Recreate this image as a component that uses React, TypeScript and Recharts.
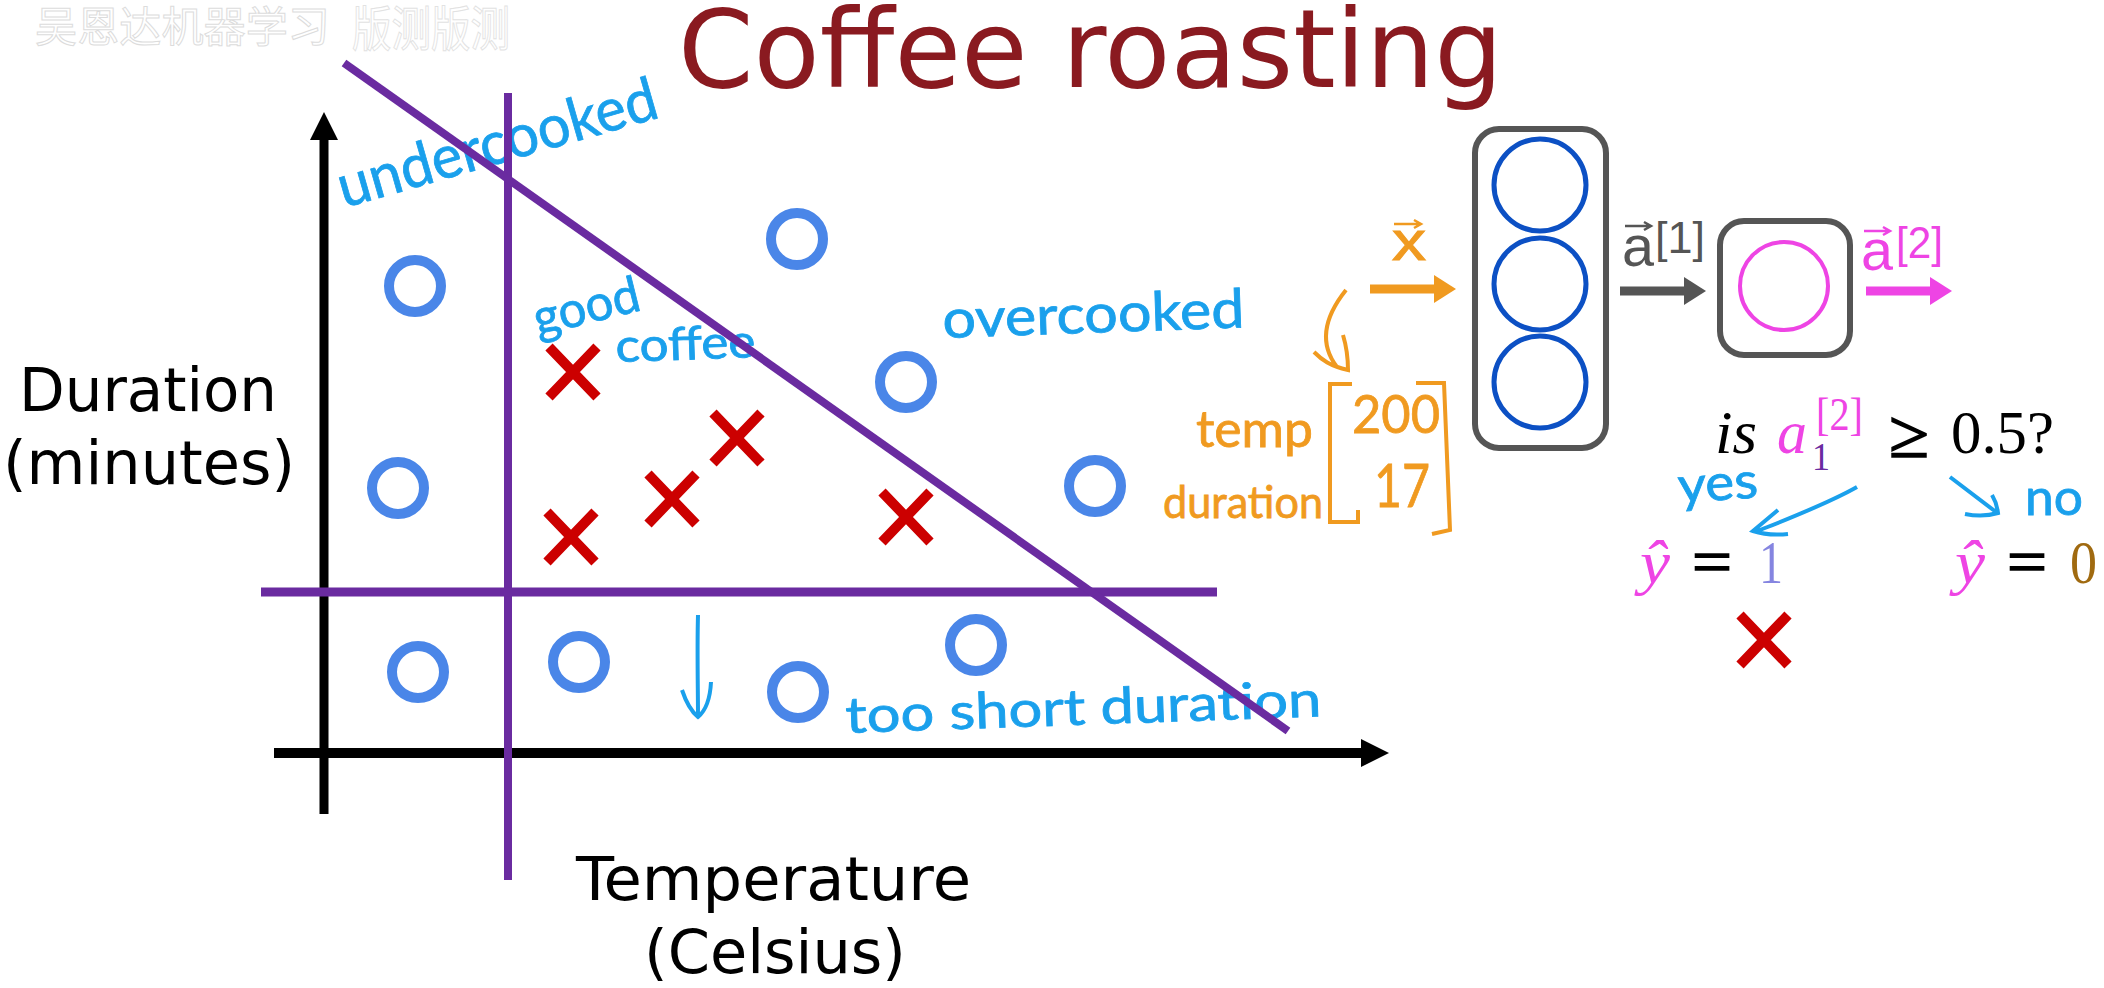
import React from "react";
import { ComposedChart, Scatter, XAxis, YAxis } from "recharts";

// Data units: temperature / duration readings relative to the axis origin
const notGoodTemperature = [9.1, 47.3, 58.2, 7.4, 77.1, 9.4, 25.5, 47.4, 65.2];
const notGoodDuration = [46.7, 51.4, 37.1, 26.5, 26.7, 8.1, 9.1, 6.1, 10.8];
const goodTemperature = [24.9, 41.3, 34.8, 24.7, 58.2];
const goodDuration = [38.1, 31.5, 25.4, 21.6, 23.6];

const yAxisLineT = [0, 0];
const yAxisLineD = [61.5, -6.1];
const yAxisTipD = [64.1];
const xAxisLineT = [-5, 104];
const xAxisLineD = [0, 0];
const xAxisTipT = [106.5];
const tempBoundaryT = [18.4, 18.4];
const tempBoundaryD = [66, -12.7];
const shortBoundaryT = [-6.3, 89.3];
const shortBoundaryD = [16.1, 16.1];
const diagonalBoundaryT = [2, 96.4];
const diagonalBoundaryD = [69, 2.2];

const hiddenNeuronT = [121.6, 121.6, 121.6];
const hiddenNeuronD = [56.8, 46.9, 37.1];
const outputNeuronT = [146];
const outputNeuronD = [46.7];
const resultCrossT = [144];
const resultCrossD = [11.3];

const zip = (a: number[], b: number[]) => a.map((t, i) => ({ t, d: b[i] }));

const PURPLE = "#6a2ba0";
const BLUE = "#4a86e8";
const RED = "#cc0000";
const HAND = "#1aa0ec";
const ORANGE = "#f09a20";
const PINK = "#ee44e4";
const GREY = "#555555";

const none = () => <g />;

const Ring = (r: number, w: number, color: string) => (p: any) => (
  <circle cx={p.cx} cy={p.cy} r={r} fill="none" stroke={color} strokeWidth={w} />
);
const Cross = (p: any) => (
  <path
    d={`M${p.cx - 24} ${p.cy - 25}L${p.cx + 24} ${p.cy + 25}M${p.cx + 24} ${p.cy - 25}L${p.cx - 24} ${p.cy + 25}`}
    stroke={RED}
    strokeWidth={10}
    fill="none"
  />
);

function T(props: any) {
  const { x, y, s, c = "#000", f = "DejaVu Sans", len, rot, it, w, sw, children, anchor } = props;
  return (
    <text
      x={x}
      y={y}
      fontSize={s}
      fill={c}
      fontFamily={f}
      fontStyle={it ? "italic" : "normal"}
      fontWeight={w}
      textLength={len}
      textAnchor={anchor}
      lengthAdjust={len ? "spacingAndGlyphs" : undefined}
      stroke={sw ? c : undefined}
      strokeWidth={sw}
      transform={rot ? `rotate(${rot} ${x} ${y})` : undefined}
    >
      {children}
    </text>
  );
}

function Arrow({ x1, x2, y, c }: any) {
  return (
    <g>
      <line x1={x1} x2={x2 - 18} y1={y} y2={y} stroke={c} strokeWidth={9} />
      <polygon points={`${x2 - 22},${y - 14} ${x2},${y} ${x2 - 22},${y + 14}`} fill={c} />
    </g>
  );
}

function VecBar({ x1, x2, y, c }: any) {
  return (
    <path
      d={`M${x1} ${y}H${x2}M${x2 - 7} ${y - 4}L${x2} ${y}L${x2 - 7} ${y + 4}`}
      stroke={c}
      strokeWidth={2.5}
      fill="none"
    />
  );
}

const H = "Lato";
const M = "Liberation Serif";

export default function App() {
  return (
    <div style={{ position: "absolute", left: 0, top: 0, width: 2104, height: 988, background: "#fff" }}>
      <ComposedChart width={2104} height={988} margin={{ top: 0, right: 0, bottom: 0, left: 0 }}>
        <XAxis type="number" dataKey="t" domain={[-32.4, 178]} hide allowDataOverflow />
        <YAxis type="number" dataKey="d" domain={[-23.5, 75.3]} hide allowDataOverflow />

        {/* axes */}
        <Scatter data={zip(yAxisLineT, yAxisLineD)} line={{ stroke: "#000", strokeWidth: 9 }} shape={none} isAnimationActive={false} />
        <Scatter data={zip(xAxisLineT, xAxisLineD)} line={{ stroke: "#000", strokeWidth: 10 }} shape={none} isAnimationActive={false} />
        <Scatter
          data={[{ t: yAxisLineT[0], d: yAxisTipD[0] }]}
          shape={(p: any) => <polygon points={`${p.cx},${p.cy} ${p.cx + 14},${p.cy + 28} ${p.cx - 14},${p.cy + 28}`} fill="#000" />}
          isAnimationActive={false}
        />
        <Scatter
          data={[{ t: xAxisTipT[0], d: xAxisLineD[1] }]}
          shape={(p: any) => <polygon points={`${p.cx},${p.cy} ${p.cx - 28},${p.cy - 14} ${p.cx - 28},${p.cy + 14}`} fill="#000" />}
          isAnimationActive={false}
        />

        {/* decision boundaries */}
        <Scatter data={zip(tempBoundaryT, tempBoundaryD)} line={{ stroke: PURPLE, strokeWidth: 8 }} shape={none} isAnimationActive={false} />
        <Scatter data={zip(shortBoundaryT, shortBoundaryD)} line={{ stroke: PURPLE, strokeWidth: 9 }} shape={none} isAnimationActive={false} />
        <Scatter data={zip(diagonalBoundaryT, diagonalBoundaryD)} line={{ stroke: PURPLE, strokeWidth: 8 }} shape={none} isAnimationActive={false} />

        {/* examples */}
        <Scatter data={zip(notGoodTemperature, notGoodDuration)} shape={Ring(26, 10, BLUE)} isAnimationActive={false} />
        <Scatter data={zip(goodTemperature, goodDuration)} shape={Cross} isAnimationActive={false} />

        {/* network */}
        <Scatter data={zip(hiddenNeuronT, hiddenNeuronD)} shape={Ring(46, 5, "#0c50c4")} isAnimationActive={false} />
        <Scatter data={zip(outputNeuronT, outputNeuronD)} shape={Ring(44, 4, PINK)} isAnimationActive={false} />
        <Scatter data={zip(resultCrossT, resultCrossD)} shape={Cross} isAnimationActive={false} />

        <rect x={1475} y={129} width={131} height={319} rx={24} fill="none" stroke={GREY} strokeWidth={6} />
        <rect x={1720} y={221} width={130} height={134} rx={24} fill="none" stroke={GREY} strokeWidth={6} />
        <Arrow x1={1370} x2={1456} y={289} c={ORANGE} />
        <Arrow x1={1620} x2={1706} y={291} c={GREY} />
        <Arrow x1={1866} x2={1952} y={291} c={PINK} />

        {/* watermark */}
        <text x={35} y={42} fontSize={42} fontFamily="Noto Sans CJK SC" fill="#fff" stroke="#dcdcdc" strokeWidth={1} textLength={295} lengthAdjust="spacingAndGlyphs">
          吴恩达机器学习
        </text>
        <text x={352} y={46} fontSize={48} fontFamily="Noto Sans CJK SC" fill="#fff" stroke="#e2e2e2" strokeWidth={1} textLength={158} lengthAdjust="spacingAndGlyphs">
          版测版测
        </text>

        {/* titles */}
        <T x={678} y={87} s={108} c="#8a1a20" len={825}>Coffee roasting</T>
        <T x={19} y={411} s={60} len={258}>Duration</T>
        <T x={3} y={484} s={60} len={292}>(minutes)</T>
        <T x={576} y={900} s={60} len={395}>Temperature</T>
        <T x={644} y={973} s={60} len={262}>(Celsius)</T>

        {/* handwritten notes */}
        <T x={344} y={208} s={60} c={HAND} f={H} sw={0.8} len={330} rot={-16}>undercooked</T>
        <T x={538} y={336} s={50} c={HAND} f={H} sw={0.8} len={108} rot={-14}>good</T>
        <T x={616} y={362} s={46} c={HAND} f={H} sw={0.8} len={140} rot={-2}>coffee</T>
        <T x={943} y={338} s={54} c={HAND} f={H} sw={0.8} len={302} rot={-2}>overcooked</T>
        <T x={846} y={733} s={50} c={HAND} f={H} sw={0.8} len={476} rot={-2}>too short duration</T>
        <path d="M698 615C697 650 698 690 698 717M682 690C686 702 692 712 698 717C704 712 710 702 711 682" stroke={HAND} strokeWidth={4} fill="none" />

        {/* input vector */}
        <T x={1392} y={260} s={56} c={ORANGE} f="Liberation Sans" sw={1} len={34}>x</T>
        <VecBar x1={1394} x2={1421} y={224} c={ORANGE} />
        <path d="M1346 290C1322 320 1320 345 1337 367M1314 352C1322 360 1330 366 1348 370C1348 358 1346 345 1343 335" stroke={ORANGE} strokeWidth={4} fill="none" />
        <T x={1196} y={447} s={50} c={ORANGE} f={H} sw={0.8} len={117}>temp</T>
        <T x={1163} y={518} s={44} c={ORANGE} f={H} sw={0.8} len={160}>duration</T>
        <T x={1352} y={433} s={52} c={ORANGE} f={H} sw={0.8} len={88}>200</T>
        <T x={1374} y={507} s={60} c={ORANGE} f={H} sw={0.8} len={56}>17</T>
        <path d="M1352 384H1330V522H1358V510" stroke={ORANGE} strokeWidth={4} fill="none" />
        <path d="M1416 383H1444L1450 530L1432 534" stroke={ORANGE} strokeWidth={4} fill="none" />

        {/* layer activations */}
        <T x={1622} y={266} s={58} c={GREY} f="Liberation Sans" len={32}>a</T>
        <VecBar x1={1625} x2={1651} y={226} c={GREY} />
        <T x={1655} y={253} s={44} c={GREY} f="Liberation Sans" len={50}>[1]</T>
        <T x={1861} y={270} s={58} c={PINK} f="Liberation Sans" len={32}>a</T>
        <VecBar x1={1864} x2={1890} y={231} c={PINK} />
        <T x={1896} y={258} s={44} c={PINK} f="Liberation Sans" len={47}>[2]</T>

        {/* threshold test */}
        <T x={1715} y={453} s={62} f={M} it len={42}>is</T>
        <T x={1777} y={453} s={62} c={PINK} f={M} it len={30}>a</T>
        <T x={1816} y={430} s={46} c={PINK} f={M} len={47}>[2]</T>
        <T x={1812} y={470} s={40} c={PURPLE} f={M} len={18}>1</T>
        <T x={1889} y={457} s={68} f={M} sw={1.5} len={40}>≥</T>
        <T x={1951} y={453} s={62} f={M} len={103}>0.5?</T>

        <T x={1679} y={503} s={50} c={HAND} f={H} sw={0.8} len={80} rot={-4}>yes</T>
        <T x={2025} y={515} s={50} c={HAND} f={H} sw={0.8} len={58}>no</T>
        <path d="M1857 487C1825 505 1785 520 1755 532M1778 510L1753 531C1765 535 1778 535 1788 534" stroke={HAND} strokeWidth={4} fill="none" />
        <path d="M1950 477L1996 512M1965 514C1975 516 1988 516 1998 513C1997 505 1995 500 1992 495" stroke={HAND} strokeWidth={4} fill="none" />

        <T x={1640} y={583} s={62} c={PINK} f={M} it len={30}>ŷ</T>
        <T x={1692} y={583} s={64} f={M} sw={1.5} len={40}>=</T>
        <T x={1759} y={583} s={62} c="#8585e0" f={M} len={24}>1</T>
        <T x={1955} y={583} s={62} c={PINK} f={M} it len={30}>ŷ</T>
        <T x={2007} y={583} s={64} f={M} sw={1.5} len={40}>=</T>
        <T x={2070} y={583} s={62} c="#a06a10" f={M} len={27}>0</T>
      </ComposedChart>
    </div>
  );
}
